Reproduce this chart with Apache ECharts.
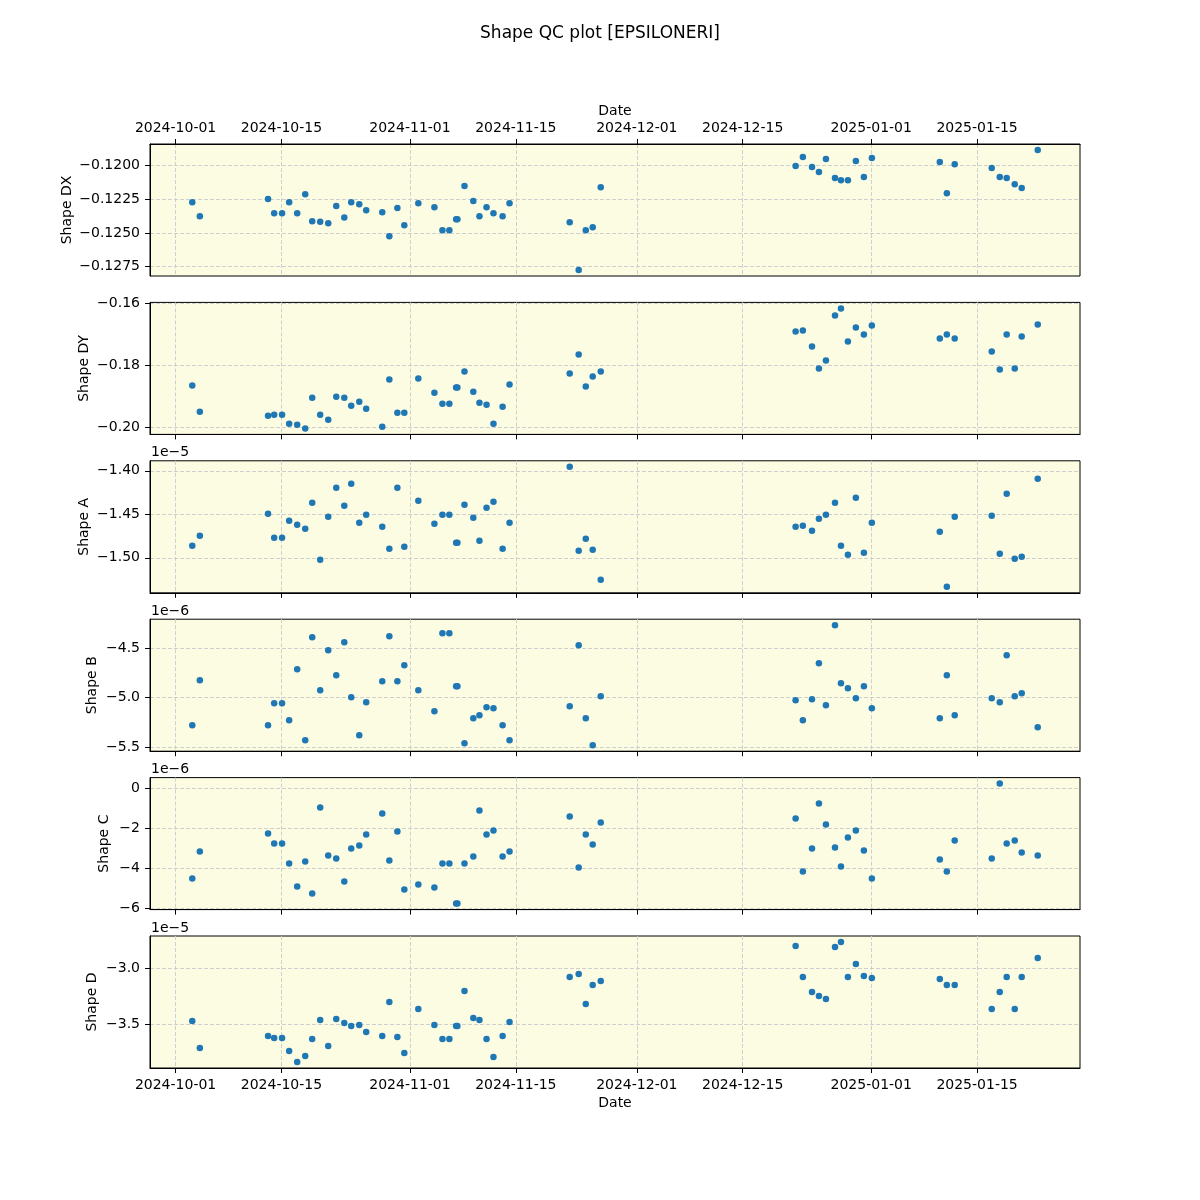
<!DOCTYPE html>
<html>
<head>
<meta charset="utf-8">
<title>Shape QC plot</title>
<script src="https://cdn.jsdelivr.net/npm/echarts@6/dist/echarts.min.js"></script>
<style>
  html, body { margin: 0; padding: 0; background: #fff; }
  #shape-qc-chart { width: 1200px; height: 1200px; }
</style>
</head>
<body>
<div id="shape-qc-chart"></div>
<script>
// observation times (local)
var obsDates = [
  '2024-10-03T05:00', '2024-10-04T05:00', '2024-10-13T05:30', '2024-10-14T01:00', '2024-10-15T02:00',
  '2024-10-16T00:30', '2024-10-17T02:00', '2024-10-18T03:30', '2024-10-19T01:40', '2024-10-20T03:00',
  '2024-10-21T04:30', '2024-10-22T06:00', '2024-10-23T07:30', '2024-10-24T05:30', '2024-10-25T07:00',
  '2024-10-26T05:00', '2024-10-28T08:00', '2024-10-29T06:30', '2024-10-30T08:00', '2024-10-31T06:00',
  '2024-11-02T02:30', '2024-11-04T05:30', '2024-11-05T07:00', '2024-11-06T05:00', '2024-11-07T02:30',
  '2024-11-07T06:30', '2024-11-08T05:00', '2024-11-09T09:00', '2024-11-10T04:30', '2024-11-11T03:00',
  '2024-11-12T01:00', '2024-11-13T06:00', '2024-11-14T04:00', '2024-11-22T03:00', '2024-11-23T07:30',
  '2024-11-24T06:00', '2024-11-25T04:00', '2024-11-26T05:30',
  '2024-12-22T00:00', '2024-12-22T23:00', '2024-12-24T04:00', '2024-12-25T02:00', '2024-12-26T00:15',
  '2024-12-27T05:00', '2024-12-28T00:00', '2024-12-28T22:00', '2024-12-29T23:15', '2024-12-31T00:45',
  '2025-01-01T02:00', '2025-01-10T01:40', '2025-01-11T00:00', '2025-01-12T01:00', '2025-01-16T22:30',
  '2025-01-18T00:00', '2025-01-18T22:00', '2025-01-19T23:30', '2025-01-20T21:40', '2025-01-23T00:30'
]

var shapeDX = [
  -0.12271, -0.12375, -0.12248, -0.12353, -0.12353, -0.12271, -0.12353, -0.12211, -0.12412, -0.12417,
  -0.12427, -0.12300, -0.12385, -0.12271, -0.12286, -0.12330, -0.12345, -0.12524, -0.12315, -0.12442,
  -0.12278, -0.12308, -0.12479, -0.12479, -0.12397, -0.12397, -0.12151, -0.12263, -0.12375, -0.12308,
  -0.12353, -0.12375, -0.12278, -0.12420, -0.12775, -0.12479, -0.12457, -0.12159,
  -0.12002, -0.11935, -0.12010, -0.12047, -0.11950, -0.12092, -0.12107, -0.12107, -0.11965, -0.12084,
  -0.11943, -0.11973, -0.12204, -0.11988, -0.12017, -0.12084, -0.12092, -0.12137, -0.12166, -0.11883
]

var shapeDY = [
  -0.18645, -0.19484, -0.19613, -0.19581, -0.19581, -0.19871, -0.19903, -0.20022, -0.19032, -0.19581,
  -0.19742, -0.19000, -0.19032, -0.19290, -0.19161, -0.19387, -0.19968, -0.18452, -0.19516, -0.19516,
  -0.18419, -0.18871, -0.19226, -0.19226, -0.18710, -0.18710, -0.18194, -0.18839, -0.19194, -0.19258,
  -0.19871, -0.19323, -0.18613, -0.18258, -0.17645, -0.18677, -0.18355, -0.18194,
  -0.16903, -0.16871, -0.17387, -0.18097, -0.17839, -0.16387, -0.16161, -0.17226, -0.16774, -0.17000,
  -0.16710, -0.17129, -0.17000, -0.17129, -0.17548, -0.18129, -0.17000, -0.18097, -0.17065, -0.16677
]

// shape A in units of 1e-5
var shapeA = [
  -1.4862, -1.4747, -1.4494, -1.4770, -1.4770, -1.4575, -1.4621, -1.4667, -1.4368, -1.5023,
  -1.4529, -1.4195, -1.4402, -1.4149, -1.4598, -1.4506, -1.4644, -1.4896, -1.4195, -1.4873,
  -1.4345, -1.4609, -1.4506, -1.4506, -1.4827, -1.4827, -1.4391, -1.4540, -1.4805, -1.4425,
  -1.4356, -1.4896, -1.4598, -1.3954, -1.4919, -1.4782, -1.4908, -1.5253,
  -1.4644, -1.4632, -1.4690, -1.4552, -1.4506, -1.4368, -1.4862, -1.4965, -1.4310, -1.4942,
  -1.4598, -1.4701, -1.5333, -1.4529, -1.4517, -1.4954, -1.4264, -1.5011, -1.4988, -1.4092
]

// shape B in units of 1e-6
var shapeB = [
  -5.2778, -4.8232, -5.2778, -5.0556, -5.0556, -5.2273, -4.7121, -5.4293, -4.3889, -4.9242,
  -4.5202, -4.7727, -4.4394, -4.9949, -5.3788, -5.0455, -4.8333, -4.3788, -4.8333, -4.6717,
  -4.9242, -5.1364, -4.3485, -4.3485, -4.8838, -4.8838, -5.4596, -5.2071, -5.1768, -5.0960,
  -5.1061, -5.2778, -5.4293, -5.0859, -4.4697, -5.2071, -5.4798, -4.9848,
  -5.0253, -5.2273, -5.0152, -4.6515, -5.0758, -4.2677, -4.8535, -4.9040, -5.0051, -4.8838,
  -5.1061, -5.2071, -4.7727, -5.1768, -5.0051, -5.0455, -4.5707, -4.9848, -4.9545, -5.2980
]

// shape C in units of 1e-6
var shapeC = [
  -4.50, -3.15, -2.25, -2.75, -2.75, -3.75, -4.90, -3.65, -5.25, -0.95,
  -3.35, -3.50, -4.65, -3.00, -2.85, -2.30, -1.25, -3.60, -2.15, -5.05,
  -4.80, -4.95, -3.75, -3.75, -5.75, -5.75, -3.75, -3.40, -1.10, -2.30,
  -2.10, -3.40, -3.15, -1.40, -3.95, -2.30, -2.80, -1.70,
  -1.50, -4.15, -3.00, -0.75, -1.80, -2.95, -3.90, -2.45, -2.10, -3.10,
  -4.50, -3.55, -4.15, -2.60, -3.50, 0.25, -2.75, -2.60, -3.20, -3.35
]

// shape D in units of 1e-5
var shapeD = [
  -3.4732, -3.7143, -3.6071, -3.6250, -3.6250, -3.7411, -3.8393, -3.7857, -3.6339, -3.4643,
  -3.6964, -3.4554, -3.4911, -3.5179, -3.5089, -3.5714, -3.6071, -3.3036, -3.6161, -3.7589,
  -3.3661, -3.5089, -3.6339, -3.6339, -3.5179, -3.5179, -3.2054, -3.4464, -3.4643, -3.6339,
  -3.7946, -3.6071, -3.4821, -3.0804, -3.0536, -3.3214, -3.1518, -3.1161,
  -2.8036, -3.0804, -3.2143, -3.2500, -3.2768, -2.8125, -2.7679, -3.0804, -2.9643, -3.0714,
  -3.0893, -3.0982, -3.1518, -3.1518, -3.3661, -3.2143, -3.0804, -3.3661, -3.0804, -2.9107
]

var dateTicks = ['2024-10-01', '2024-10-15', '2024-11-01', '2024-11-15', '2024-12-01', '2024-12-15', '2025-01-01', '2025-01-15']
var dxTicks = [-0.1275, -0.1250, -0.1225, -0.1200]
var dyTicks = [-0.20, -0.18, -0.16]
var aTicks = [-1.50, -1.45, -1.40]
var bTicks = [-5.5, -5.0, -4.5]
var cTicks = [-6, -4, -2, 0]
var dTicks = [-3.5, -3.0]

var FONT = 'DejaVu Sans'
var times = obsDates.map(function (d) { return new Date(d).getTime() })
var xTickValues = dateTicks.map(function (d) {
  var p = d.split('-')
  return new Date(+p[0], +p[1] - 1, +p[2]).getTime()
})

function pad2 (n) { return (n < 10 ? '0' : '') + n }
function fmtDate (v) {
  var d = new Date(v)
  return d.getFullYear() + '-' + pad2(d.getMonth() + 1) + '-' + pad2(d.getDate())
}
function fmtNum (digits) {
  return function (v) { return v.toFixed(digits).replace('-', '\u2212') }
}
// matplotlib-like 5% margins
function padRange (arr) {
  var lo = Math.min.apply(null, arr)
  var hi = Math.max.apply(null, arr)
  var m = (hi - lo) * 0.05
  return [lo - m, hi + m]
}

var panels = [
  { name: 'Shape DX', values: shapeDX, ticks: dxTicks, digits: 4, offset: '', nameGap: 76 },
  { name: 'Shape DY', values: shapeDY, ticks: dyTicks, digits: 2, offset: '', nameGap: 59 },
  { name: 'Shape A', values: shapeA, ticks: aTicks, digits: 2, offset: '1e\u22125', nameGap: 59 },
  { name: 'Shape B', values: shapeB, ticks: bTicks, digits: 1, offset: '1e\u22126', nameGap: 51 },
  { name: 'Shape C', values: shapeC, ticks: cTicks, digits: 0, offset: '1e\u22126', nameGap: 39 },
  { name: 'Shape D', values: shapeD, ticks: dTicks, digits: 1, offset: '1e\u22125', nameGap: 51 }
]

var xRange = padRange(times)
var gridLine = { show: true, lineStyle: { color: '#cfcfcf', width: 1, type: [4, 2] } }
var grids = []
var xAxes = []
var yAxes = []
var series = []
var graphics = []

panels.forEach(function (p, i) {
  var top = 144 + i * 158.4
  var yRange = padRange(p.values)
  var last = i === panels.length - 1
  grids.push({
    left: 150,
    width: 930,
    top: top,
    height: 132,
    show: true,
    backgroundColor: '#fcfce3',
    borderColor: '#000',
    borderWidth: 1,
    outerBoundsMode: 'none'
  })
  // timestamps on a value axis, labelled as dates
  xAxes.push({
    type: 'value',
    gridIndex: i,
    position: i === 0 ? 'top' : 'bottom',
    min: xRange[0],
    max: xRange[1],
    name: (i === 0 || last) ? 'Date' : '',
    nameLocation: 'middle',
    nameGap: i === 0 ? 26 : 28,
    nameMoveOverlap: false,
    nameTextStyle: { color: '#000', fontSize: 14, fontFamily: FONT, verticalAlign: i === 0 ? 'bottom' : 'top' },
    axisLine: { show: true, onZero: false, lineStyle: { color: '#000', width: 1 } },
    axisTick: { show: true, inside: false, length: 5, customValues: xTickValues, lineStyle: { color: '#000' } },
    axisLabel: {
      show: i === 0 || last,
      customValues: xTickValues,
      formatter: fmtDate,
      color: '#000',
      fontSize: 14,
      fontFamily: FONT,
      margin: i === 0 ? 9 : 10,
      hideOverlap: false
    },
    splitLine: gridLine
  })
  yAxes.push({
    type: 'value',
    gridIndex: i,
    min: yRange[0],
    max: yRange[1],
    name: p.name,
    nameLocation: 'middle',
    nameRotate: 90,
    nameGap: p.nameGap,
    nameMoveOverlap: false,
    nameTextStyle: { color: '#000', fontSize: 14, fontFamily: FONT },
    axisLine: { show: true, onZero: false, lineStyle: { color: '#000', width: 1 } },
    axisTick: { show: true, inside: false, length: 5, customValues: p.ticks, lineStyle: { color: '#000' } },
    axisLabel: {
      customValues: p.ticks,
      formatter: fmtNum(p.digits),
      color: '#000',
      fontSize: 14,
      fontFamily: FONT,
      margin: 10,
      hideOverlap: false
    },
    splitLine: gridLine
  })
  series.push({
    type: 'scatter',
    xAxisIndex: i,
    yAxisIndex: i,
    symbolSize: 6.5,
    itemStyle: { color: '#1f77b4', opacity: 1 },
    data: times.map(function (t, k) { return [t, p.values[k]] })
  })
  if (p.offset) {
    graphics.push({
      type: 'text',
      left: 151,
      top: top - 15,
      style: { text: p.offset, fill: '#000', fontSize: 14, fontFamily: FONT }
    })
  }
})

var myChart = echarts.init(document.getElementById('shape-qc-chart'), null, { renderer: 'canvas' })
var option = {
  animation: false,
  backgroundColor: '#fff',
  textStyle: { fontFamily: FONT },
  title: {
    text: 'Shape QC plot [EPSILONERI]',
    left: 'center',
    top: 20,
    textStyle: { color: '#000', fontSize: 17, fontWeight: 'normal', fontFamily: FONT }
  },
  grid: grids,
  xAxis: xAxes,
  yAxis: yAxes,
  series: series,
  graphic: graphics
}
myChart.setOption(option, true)
</script>
</body>
</html>
